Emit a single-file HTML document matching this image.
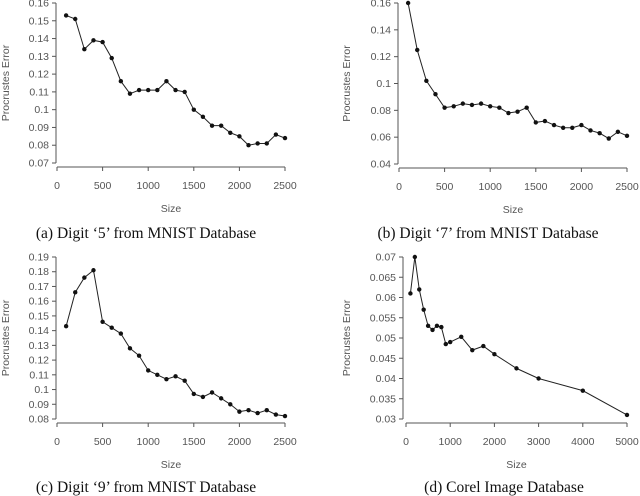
<!DOCTYPE html>
<html><head><meta charset="utf-8"><style>
body{margin:0;background:#fff;width:640px;height:496px;overflow:hidden}
svg{display:block}
.t{font-family:"Liberation Sans",sans-serif;font-size:10.5px;fill:#555}
.cap{font-family:"Liberation Serif",serif;font-size:15.5px;fill:#111}
</style></head><body>
<svg id="s" width="640" height="496"></svg>
<script>
const xA=[100,200,300,400,500,600,700,800,900,1000,1100,1200,1300,1400,1500,1600,1700,1800,1900,2000,2100,2200,2300,2400,2500];
const yA=[0.153,0.151,0.134,0.139,0.138,0.129,0.116,0.109,0.111,0.111,0.111,0.116,0.111,0.110,0.100,0.096,0.091,0.091,0.087,0.085,0.080,0.081,0.081,0.086,0.084];
const yB=[0.160,0.125,0.102,0.092,0.082,0.083,0.085,0.084,0.085,0.083,0.082,0.078,0.079,0.082,0.071,0.072,0.069,0.067,0.067,0.069,0.065,0.063,0.059,0.064,0.061];
const yC=[0.143,0.166,0.176,0.181,0.146,0.142,0.138,0.128,0.123,0.113,0.110,0.107,0.109,0.106,0.097,0.095,0.098,0.094,0.090,0.085,0.086,0.084,0.086,0.083,0.082];
const xD=[100,200,300,400,500,600,700,800,900,1000,1250,1500,1750,2000,2500,3000,4000,5000];
const yD=[0.061,0.070,0.062,0.057,0.053,0.052,0.053,0.0527,0.0485,0.049,0.0503,0.047,0.048,0.046,0.0425,0.040,0.037,0.031];
const ticksA=["0.07","0.08","0.09","0.1","0.11","0.12","0.13","0.14","0.15","0.16"];
const ticksB=["0.04","0.06","0.08","0.1","0.12","0.14","0.16"];
const ticksC=["0.08","0.09","0.1","0.11","0.12","0.13","0.14","0.15","0.16","0.17","0.18","0.19"];
const ticksD=["0.03","0.035","0.04","0.045","0.05","0.055","0.06","0.065","0.07"];
const xt25=[0,500,1000,1500,2000,2500];
const xt50=[0,1000,2000,3000,4000,5000];
const NS="http://www.w3.org/2000/svg";
const svg=document.getElementById('s');
function mk(tag,at,parent){const e=document.createElementNS(NS,tag);for(const k in at)e.setAttribute(k,at[k]);(parent||svg).appendChild(e);return e;}
function chart(id,c){
  const g=mk('g',{});
  
  
  const ymin=+c.yt[0],ymax=+c.yt[c.yt.length-1],xmax=c.xt[c.xt.length-1];
  const sx=v=>c.x0+(v/xmax)*(c.x1-c.x0);
  const sy=v=>c.yb-(v-ymin)/(ymax-ymin)*(c.yb-c.yt0);
  const ax=mk('path',{d:`M${c.ax},${sy(ymin)}V${sy(ymax)}`,stroke:'#555',fill:'none','stroke-width':1},g);
  
  
  c.yt.forEach(t=>{const y=sy(+t);mk('path',{d:`M${c.ax-4},${y}H${c.ax}`,stroke:'#555'},g);
    const tx=mk('text',{x:c.ax-7,y:y+3.5,'text-anchor':'end',class:'t'},g);tx.textContent=t;
    
    });
  const xa=mk('path',{d:`M${sx(c.xt[0])},${c.xay}H${sx(xmax)}`,stroke:'#555',fill:'none'},g);
  
  
  c.xt.forEach(t=>{const x=sx(t);mk('path',{d:`M${x},${c.xay}V${c.xay+4}`,stroke:'#555'},g);
    const tx=mk('text',{x:x,y:c.xay+22,'text-anchor':'middle',class:'t'},g);tx.textContent=t;
    
    });
  const xl=mk('text',{x:(sx(0)+sx(xmax))/2,y:c.xay+45,'text-anchor':'middle',class:'t'},g);xl.textContent='Size';
  
  
  const yl=mk('text',{x:0,y:0,'text-anchor':'middle',class:'t',transform:`translate(${c.ylx},${(sy(ymin)+sy(ymax))/2}) rotate(-90)`},g);yl.textContent='Procrustes Error';
  
  
  const pts=c.xs.map((v,i)=>[sx(v),sy(c.ys[i])]);
  const ln=mk('polyline',{points:pts.map(p=>p.join(',')).join(' '),fill:'none',stroke:'#222','stroke-width':1},g);
  
  
  pts.forEach(p=>{const d=mk('circle',{cx:p[0],cy:p[1],r:2.2,fill:'#111'},g);
    
    });
  const cp=mk('text',{x:c.capx,y:c.capy,'text-anchor':'middle',class:'cap'},g);cp.textContent=c.cap;
  
  
}
chart('chart-digit-5',{x0:57,x1:285,ax:56,yb:163,yt0:3,xay:167,ylx:9,yt:ticksA,xt:xt25,xs:xA,ys:yA,cap:"(a) Digit ‘5’ from MNIST Database",capx:146,capy:238});
chart('chart-digit-7',{x0:399,x1:627,ax:398,yb:164,yt0:3,xay:168,ylx:350,yt:ticksB,xt:xt25,xs:xA,ys:yB,cap:"(b) Digit ‘7’ from MNIST Database",capx:488,capy:238});
chart('chart-digit-9',{x0:57,x1:285,ax:56,yb:419,yt0:257,xay:423,ylx:9,yt:ticksC,xt:xt25,xs:xA,ys:yC,cap:"(c) Digit ‘9’ from MNIST Database",capx:146,capy:492});
chart('chart-corel',{x0:406,x1:627,ax:403,yb:419,yt0:257,xay:423,ylx:350,yt:ticksD,xt:xt50,xs:xD,ys:yD,cap:"(d) Corel Image Database",capx:504,capy:492});
</script>
</body></html>
